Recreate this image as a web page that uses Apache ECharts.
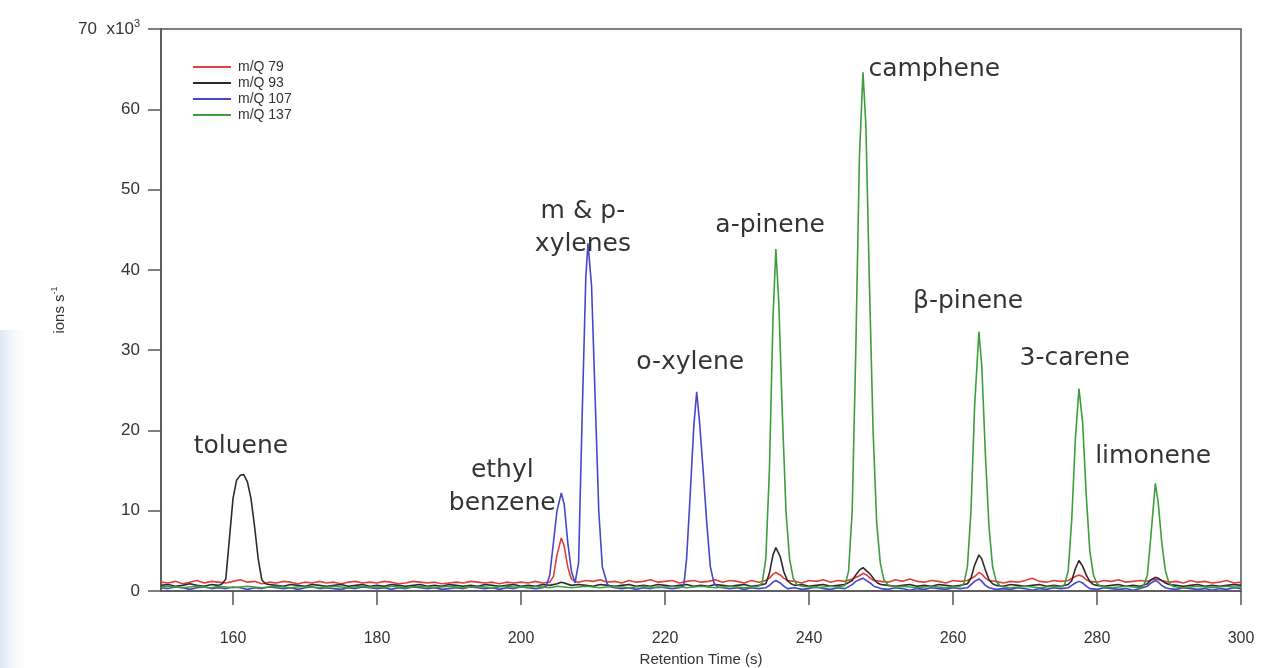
<!DOCTYPE html>
<html>
<head>
<meta charset="utf-8">
<script src="https://cdn.jsdelivr.net/npm/echarts@6/dist/echarts.min.js"></script>
<style>
html,body{margin:0;padding:0;background:#fff;}
#c{width:1271px;height:668px;}
</style>
</head>
<body>
<div id="c"></div>
<script>
// ---- data (retention time s, ions s-1 in 10^3) ----
const seriesNames = ['m/Q 79', 'm/Q 93', 'm/Q 107', 'm/Q 137'];
const xTickValues = [160, 180, 200, 220, 240, 260, 280, 300];
const yTickValues = [0, 10, 20, 30, 40, 50, 60, 70];

const mq79 = [[150,1.1],[151,1.0],[152,1.2],[153,0.9],[154,1.1],[155,1.3],[156,1.0],[157,1.2],[158,1.1],[159,1.0],[160,1.2],[161,1.4],[162,1.1],[163,1.2],[164,0.9],[165,1.1],[166,1.0],[167,1.2],[168,1.1],[169,0.9],[170,1.1],[171,1.0],[172,1.2],[173,1.0],[174,1.1],[175,0.9],[176,1.1],[177,1.2],[178,1.0],[179,1.1],[180,1.0],[181,1.2],[182,1.1],[183,0.9],[184,1.0],[185,1.2],[186,1.1],[187,1.0],[188,1.1],[189,0.9],[190,1.0],[191,1.1],[192,1.0],[193,1.2],[194,1.1],[195,1.0],[196,1.1],[197,0.9],[198,1.1],[199,1.0],[200,1.1],[201,1.0],[202,1.2],[203,1.0],[204,1.1],[204.5,1.8],[205,4.5],[205.6,6.6],[206,5.6],[206.5,3.0],[207,1.5],[207.5,1.2],[208,1.1],[209,1.3],[210,1.2],[211,1.4],[212,1.1],[213,1.2],[214,1.0],[215,1.3],[216,1.1],[217,1.2],[218,1.4],[219,1.1],[220,1.2],[221,1.3],[222,1.0],[223,1.2],[224,1.3],[225,1.1],[226,1.2],[227,1.4],[228,1.1],[229,1.3],[230,1.2],[231,1.0],[232,1.3],[233,1.1],[234,1.3],[234.5,1.6],[235,2.1],[235.4,2.3],[236,2.0],[236.5,1.6],[237,1.3],[238,1.2],[239,1.0],[240,1.3],[241,1.2],[242,1.4],[243,1.1],[244,1.3],[245,1.2],[246,1.5],[247,1.9],[247.5,2.2],[248,2.0],[248.5,1.6],[249,1.3],[250,1.2],[251,1.1],[252,1.4],[253,1.2],[254,1.5],[255,1.2],[256,1.1],[257,1.3],[258,1.2],[259,1.0],[260,1.3],[261,1.2],[262,1.3],[263,1.8],[263.6,2.3],[264,2.1],[264.5,1.6],[265,1.3],[266,1.2],[267,1.0],[268,1.2],[269,1.1],[270,1.3],[271,1.6],[272,1.2],[273,1.1],[274,1.3],[275,1.2],[276,1.3],[277,1.8],[277.5,2.0],[278,1.8],[278.5,1.4],[279,1.2],[280,1.1],[281,1.3],[282,1.2],[283,1.4],[284,1.1],[285,1.2],[286,1.3],[287,1.2],[288,1.5],[289,1.3],[290,1.1],[291,1.2],[292,1.0],[293,1.3],[294,1.1],[295,1.2],[296,1.0],[297,1.1],[298,1.3],[299,1.0],[300,1.1]];

const mq93 = [[150,0.7],[151,0.8],[152,0.6],[153,0.7],[154,0.9],[155,0.7],[156,0.6],[157,0.8],[158,0.7],[158.5,0.9],[159,1.5],[159.5,6.5],[160,11.5],[160.5,13.8],[161,14.4],[161.5,14.5],[162,13.6],[162.5,11.5],[163,8.0],[163.5,4.0],[164,1.4],[164.5,0.9],[165,0.8],[166,0.7],[167,0.6],[168,0.8],[169,0.7],[170,0.6],[171,0.8],[172,0.7],[173,0.6],[174,0.7],[175,0.8],[176,0.6],[177,0.7],[178,0.8],[179,0.6],[180,0.7],[181,0.6],[182,0.8],[183,0.7],[184,0.6],[185,0.7],[186,0.8],[187,0.6],[188,0.7],[189,0.6],[190,0.8],[191,0.7],[192,0.6],[193,0.7],[194,0.6],[195,0.8],[196,0.7],[197,0.6],[198,0.7],[199,0.8],[200,0.6],[201,0.7],[202,0.6],[203,0.8],[204,0.7],[205,0.9],[205.6,1.1],[206,1.0],[207,0.7],[208,0.8],[209,0.7],[210,0.6],[211,0.8],[212,0.7],[213,0.6],[214,0.7],[215,0.8],[216,0.6],[217,0.7],[218,0.6],[219,0.8],[220,0.7],[221,0.6],[222,0.7],[223,0.8],[224,0.6],[225,0.7],[226,0.6],[227,0.8],[228,0.7],[229,0.6],[230,0.7],[231,0.8],[232,0.6],[233,0.7],[234,0.9],[234.5,2.2],[235,4.5],[235.4,5.4],[236,4.3],[236.5,2.4],[237,1.3],[237.5,0.9],[238,0.7],[239,0.8],[240,0.6],[241,0.7],[242,0.8],[243,0.6],[244,0.7],[245,0.8],[246,1.3],[246.5,2.0],[247,2.6],[247.5,2.9],[248,2.5],[248.5,2.1],[249,1.5],[249.5,1.0],[250,0.8],[251,0.7],[252,0.6],[253,0.7],[254,0.8],[255,0.6],[256,0.7],[257,0.6],[258,0.8],[259,0.7],[260,0.6],[261,0.7],[262,0.9],[262.5,1.6],[263,3.2],[263.6,4.5],[264,4.0],[264.5,2.6],[265,1.4],[265.5,0.9],[266,0.7],[267,0.6],[268,0.8],[269,0.7],[270,0.6],[271,0.7],[272,0.8],[273,0.6],[274,0.7],[275,0.6],[276,0.8],[276.5,1.3],[277,2.8],[277.5,3.8],[278,3.1],[278.5,2.0],[279,1.2],[279.5,0.8],[280,0.7],[281,0.6],[282,0.7],[283,0.8],[284,0.6],[285,0.7],[286,0.6],[287,0.9],[287.5,1.4],[288.1,1.7],[288.5,1.6],[289,1.3],[289.5,1.0],[290,0.8],[291,0.7],[292,0.6],[293,0.7],[294,0.8],[295,0.6],[296,0.7],[297,0.6],[298,0.7],[299,0.8],[300,0.7]];

const mq107 = [[150,0.4],[151,0.3],[152,0.5],[153,0.4],[154,0.2],[155,0.4],[156,0.5],[157,0.3],[158,0.4],[159,0.3],[160,0.5],[161,0.4],[162,0.2],[163,0.4],[164,0.3],[165,0.5],[166,0.4],[167,0.3],[168,0.4],[169,0.2],[170,0.4],[171,0.5],[172,0.3],[173,0.4],[174,0.3],[175,0.2],[176,0.4],[177,0.3],[178,0.5],[179,0.4],[180,0.3],[181,0.4],[182,0.2],[183,0.4],[184,0.3],[185,0.5],[186,0.4],[187,0.3],[188,0.4],[189,0.2],[190,0.3],[191,0.4],[192,0.3],[193,0.5],[194,0.4],[195,0.3],[196,0.4],[197,0.2],[198,0.4],[199,0.3],[200,0.5],[201,0.4],[202,0.3],[203,0.4],[203.5,0.6],[204,2.0],[204.5,6.0],[205,10.0],[205.6,12.2],[206,10.8],[206.5,6.0],[207,2.5],[207.5,1.0],[208,3.5],[208.5,22.0],[209,39.0],[209.3,43.3],[209.8,38.0],[210.3,24.0],[210.8,10.0],[211.3,3.0],[212,0.8],[212.5,0.5],[213,0.4],[214,0.3],[215,0.4],[216,0.2],[217,0.4],[218,0.3],[219,0.5],[220,0.4],[221,0.3],[222,0.4],[222.6,0.6],[223,4.0],[223.5,12.0],[224,20.5],[224.4,24.8],[224.8,21.0],[225.3,15.0],[225.8,8.5],[226.3,3.0],[226.8,1.0],[227.3,0.5],[228,0.4],[229,0.3],[230,0.4],[231,0.2],[232,0.4],[233,0.3],[234,0.4],[234.5,0.7],[235,1.1],[235.4,1.3],[236,1.0],[236.5,0.6],[237,0.3],[238,0.4],[239,0.2],[240,0.3],[241,0.5],[242,0.3],[243,0.2],[244,0.4],[245,0.3],[246,0.8],[246.5,1.2],[247,1.4],[247.5,1.6],[248,1.3],[248.5,1.0],[249,0.6],[250,0.3],[251,0.2],[252,0.4],[253,0.3],[254,0.1],[255,0.3],[256,0.2],[257,0.4],[258,0.3],[259,0.2],[260,0.4],[261,0.3],[262,0.4],[262.5,0.8],[263,1.2],[263.6,1.5],[264,1.2],[264.5,0.7],[265,0.4],[266,0.2],[267,0.3],[268,0.2],[269,0.4],[270,0.3],[271,0.1],[272,0.3],[273,0.2],[274,0.4],[275,0.3],[276,0.4],[276.5,0.7],[277,1.0],[277.5,1.2],[278,1.0],[278.5,0.6],[279,0.3],[280,0.2],[281,0.4],[282,0.3],[283,0.2],[284,0.3],[285,0.1],[286,0.3],[287,0.6],[287.5,1.0],[288.1,1.3],[288.5,1.1],[289,0.7],[289.5,0.4],[290,0.3],[291,0.2],[292,0.4],[293,0.3],[294,0.2],[295,0.3],[296,0.1],[297,0.3],[298,0.2],[299,0.4],[300,0.3]];

const mq137 = [[150,0.5],[151,0.6],[152,0.5],[153,0.4],[154,0.5],[155,0.6],[156,0.5],[157,0.4],[158,0.6],[159,0.5],[160,0.4],[161,0.5],[162,0.6],[163,0.5],[164,0.4],[165,0.5],[166,0.6],[167,0.5],[168,0.4],[169,0.5],[170,0.6],[171,0.5],[172,0.4],[173,0.5],[174,0.6],[175,0.5],[176,0.4],[177,0.5],[178,0.6],[179,0.5],[180,0.5],[181,0.4],[182,0.6],[183,0.5],[184,0.4],[185,0.5],[186,0.6],[187,0.5],[188,0.4],[189,0.5],[190,0.6],[191,0.5],[192,0.4],[193,0.5],[194,0.6],[195,0.5],[196,0.4],[197,0.5],[198,0.6],[199,0.5],[200,0.5],[201,0.4],[202,0.6],[203,0.5],[204,0.4],[205,0.6],[206,0.5],[207,0.4],[208,0.5],[209,0.6],[210,0.5],[211,0.4],[212,0.5],[213,0.6],[214,0.5],[215,0.4],[216,0.5],[217,0.6],[218,0.5],[219,0.4],[220,0.5],[221,0.6],[222,0.5],[223,0.4],[224,0.5],[225,0.6],[226,0.5],[227,0.4],[228,0.5],[229,0.6],[230,0.5],[231,0.4],[232,0.5],[233,0.6],[233.5,1.0],[234,4.0],[234.5,15.0],[235,34.0],[235.4,42.6],[235.8,36.0],[236.3,22.0],[236.8,10.0],[237.3,4.0],[237.8,1.6],[238.3,0.8],[239,0.6],[240,0.5],[241,0.4],[242,0.5],[243,0.6],[244,0.5],[245,0.7],[245.5,2.5],[246,10.0],[246.5,30.0],[247,54.0],[247.5,64.6],[247.9,58.0],[248.4,38.0],[248.9,20.0],[249.4,8.5],[249.9,3.5],[250.4,1.4],[251,0.7],[252,0.5],[253,0.6],[254,0.5],[255,0.4],[256,0.5],[257,0.6],[258,0.5],[259,0.4],[260,0.5],[261,0.6],[261.5,0.9],[262,3.0],[262.5,10.0],[263,23.0],[263.6,32.3],[264,28.0],[264.5,17.0],[265,8.0],[265.5,3.0],[266,1.2],[266.5,0.7],[267,0.5],[268,0.4],[269,0.5],[270,0.6],[271,0.5],[272,0.4],[273,0.5],[274,0.6],[275,0.5],[275.5,0.8],[276,2.5],[276.5,9.0],[277,19.0],[277.5,25.2],[278,21.0],[278.5,12.0],[279,5.0],[279.5,2.0],[280,0.9],[280.5,0.6],[281,0.5],[282,0.4],[283,0.5],[284,0.6],[285,0.5],[286,0.4],[286.5,0.7],[287,2.0],[287.5,7.0],[288.1,13.4],[288.5,11.0],[289,6.0],[289.5,2.5],[290,1.0],[290.5,0.6],[291,0.5],[292,0.4],[293,0.5],[294,0.6],[295,0.5],[296,0.4],[297,0.5],[298,0.6],[299,0.5],[300,0.5]];

// compound annotations: [time, value, text]
const compoundLabels = [
  [161.1, 18.0, 'toluene'],
  [197.4, 12.9, 'ethyl\nbenzene'],
  [208.6, 45.2, 'm & p-\nxylenes'],
  [234.6, 45.5, 'a-pinene'],
  [257.4, 64.9, 'camphene'],
  [223.5, 28.4, 'o-xylene'],
  [262.1, 36.0, 'β-pinene'],
  [276.9, 28.9, '3-carene'],
  [287.8, 16.8, 'limonene']
];

const colors = ['#e43d3d', '#2b2b2b', '#4747cc', '#3d9e3d'];
const seriesData = [mq79, mq93, mq107, mq137];

const chart = echarts.init(document.getElementById('c'), null, {renderer: 'canvas'});
const axisFont = 'Liberation Sans, Arial, sans-serif';
const option = {
  animation: false,
  backgroundColor: '#ffffff',
  graphic: [{
    type: 'rect', left: 0, top: 330, z: -10, silent: true,
    shape: {width: 30, height: 338},
    style: {fill: new echarts.graphic.LinearGradient(0, 0, 1, 0, [
      {offset: 0, color: 'rgba(205,220,238,0.7)'},
      {offset: 1, color: 'rgba(255,255,255,0)'}
    ])}
  }],
  grid: {left: 161, right: 30, top: 29, bottom: 77, containLabel: false, outerBoundsMode: 'none',
    show: true, borderColor: '#555', borderWidth: 1.5, backgroundColor: 'transparent'},
  legend: {
    data: seriesNames,
    orient: 'vertical', left: 188, top: 55, itemGap: 2,
    itemWidth: 38, itemHeight: 2, icon: 'rect',
    textStyle: {fontFamily: axisFont, fontSize: 14, color: '#333', padding: [0,0,0,2]}
  },
  xAxis: {
    type: 'value', min: 150, max: 300,
    name: 'Retention Time (s)', nameLocation: 'middle', nameGap: 61,
    nameTextStyle: {fontFamily: axisFont, fontSize: 15, color: '#333'},
    axisLine: {lineStyle: {color: '#555', width: 1.5}},
    axisTick: {show: true, length: 14, inside: false, customValues: xTickValues, lineStyle: {color: '#555', width: 1.5}},
    axisLabel: {customValues: xTickValues, margin: 40, fontFamily: axisFont, fontSize: 16, color: '#333'},
    splitLine: {show: false}
  },
  yAxis: {
    type: 'value', min: 0, max: 70, interval: 10,
    name: 'ions s{sup|-1}', nameLocation: 'middle', nameGap: 88, nameRotate: 90,
    nameTextStyle: {fontFamily: axisFont, fontSize: 15, color: '#333',
      rich: {sup: {fontFamily: axisFont, fontSize: 9, color: '#333', padding: [0,0,10,0]}}},
    axisLine: {show: true, lineStyle: {color: '#555', width: 1.5}},
    axisTick: {show: true, length: 13, inside: false, customValues: yTickValues, lineStyle: {color: '#555', width: 1.5}},
    axisLabel: {
      customValues: yTickValues, margin: 21, fontFamily: axisFont, fontSize: 17, color: '#333',
      formatter: v => v === 70 ? '70  x10{sup|3}' : String(v),
      rich: {sup: {fontFamily: axisFont, fontSize: 11, color: '#333', padding: [0,0,11,0]}}
    },
    splitLine: {show: false}
  },
  series: seriesNames.map((n, i) => ({
    name: n, type: 'line', data: seriesData[i], showSymbol: false, symbol: 'none',
    color: colors[i], lineStyle: {color: colors[i], width: 1.6}, z: 2 + i
  })).concat([{
    name: 'labels', type: 'scatter', data: compoundLabels, symbolSize: 0, silent: true, z: 10,
    label: {show: true, position: 'inside', formatter: p => p.data[2],
      fontFamily: 'DejaVu Sans, sans-serif', fontSize: 25, color: '#000', lineHeight: 33}
  }])
};
chart.setOption(option);
</script>
</body>
</html>
